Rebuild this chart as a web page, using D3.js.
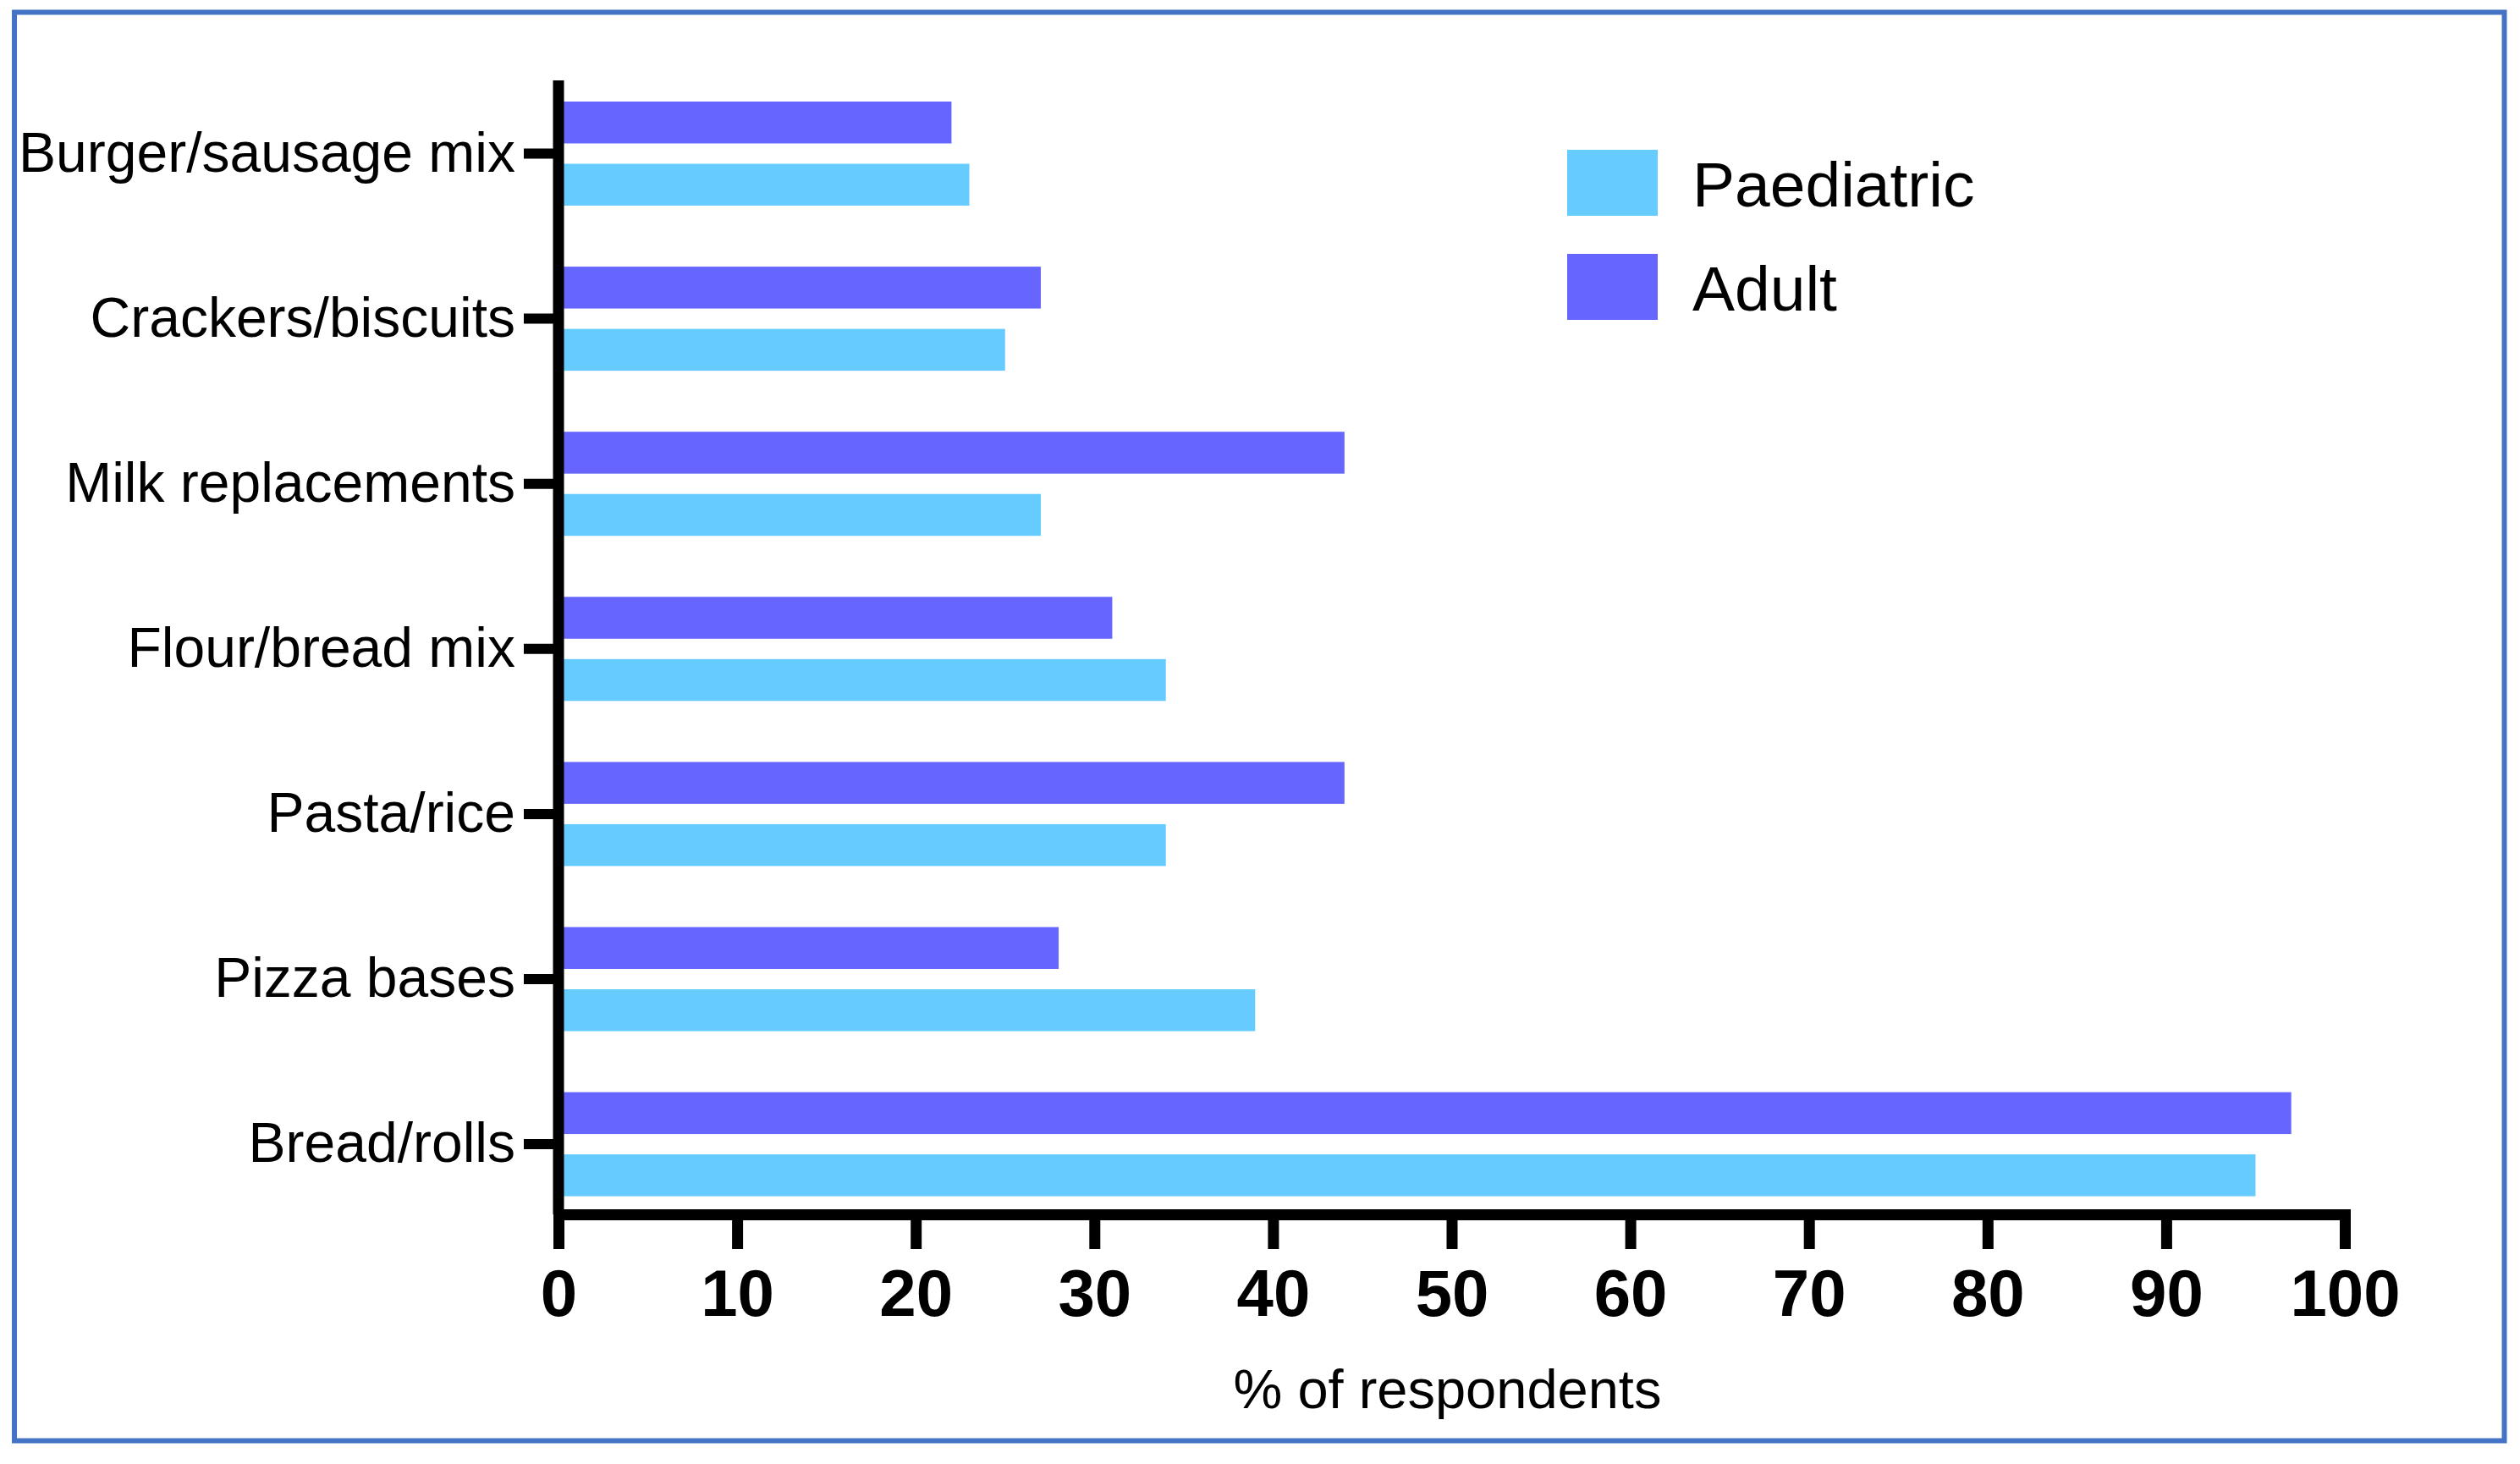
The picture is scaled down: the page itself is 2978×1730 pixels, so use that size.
<!DOCTYPE html>
<html>
<head>
<meta charset="utf-8">
<script src="https://cdn.jsdelivr.net/npm/d3@7"></script>
<style>
  html, body { margin: 0; padding: 0; background: #fff; }
  svg { display: block; }
  text { font-family: "Liberation Sans", Arial, Helvetica, sans-serif; }
</style>
</head>
<body>
<svg id="chart" width="2978" height="1730"></svg>
<script>
// ---- Data ----
const categories = ["Burger/sausage mix", "Crackers/biscuits", "Milk replacements", "Flour/bread mix", "Pasta/rice", "Pizza bases", "Bread/rolls"];
const seriesNames = ["Adult", "Paediatric"];
const adultValues = [22, 27, 44, 31, 44, 28, 97];
const paediatricValues = [23, 25, 27, 34, 34, 39, 95];
const xTickValues = [0, 10, 20, 30, 40, 50, 60, 70, 80, 90, 100];
const xAxisTitle = "% of respondents";
const legendOrder = ["Paediatric", "Adult"];

const colors = { "Paediatric": "#66CCFF", "Adult": "#6666FF" };

// ---- Layout ----
const W = 2978, H = 1730;
const svg = d3.select("#chart");
svg.append("rect").attr("width", W).attr("height", H).attr("fill", "#fff");

// outer border
svg.append("rect")
  .attr("x", 17).attr("y", 14.5)
  .attr("width", 2942.5).attr("height", 1688)
  .attr("fill", "none").attr("stroke", "#4472C4").attr("stroke-width", 6);

const axisTop = 95;      // top of the y axis line
const axisY = 1435;      // centre of the x axis line

const x = d3.scaleLinear().domain([0, 100]).range([660, 2771]);

const pad = 0.3696;
const y = d3.scaleBand().domain(categories).range([47.9, 1485.7]).paddingInner(pad).paddingOuter(pad);
const ySub = d3.scaleBand().domain(seriesNames).range([0, y.bandwidth()]).paddingInner(0.327).paddingOuter(0);

const rows = categories.map((c, i) => ({ cat: c, Adult: adultValues[i], Paediatric: paediatricValues[i] }));

// ---- Bars ----
const g = svg.append("g");
const groups = g.selectAll("g.cat").data(rows).join("g")
  .attr("class", "cat")
  .attr("transform", d => `translate(0,${y(d.cat)})`);

groups.selectAll("rect").data(d => seriesNames.map(s => ({ s, v: d[s] }))).join("rect")
  .attr("x", x(0))
  .attr("y", d => ySub(d.s))
  .attr("width", d => x(d.v) - x(0))
  .attr("height", ySub.bandwidth())
  .attr("fill", d => colors[d.s]);

// ---- Y axis ----
const yAxis = d3.axisLeft(y).tickSize(41).tickPadding(10).tickSizeOuter(0);
const yg = svg.append("g").attr("transform", `translate(${x(0)},0)`).call(yAxis);
yg.select(".domain").remove();
yg.selectAll(".tick line").attr("stroke", "#000").attr("stroke-width", 12);
yg.selectAll(".tick text")
  .attr("fill", "#000")
  .style("font-size", "66px")
  .style("font-family", '"Liberation Sans", Arial, sans-serif');

svg.append("line")
  .attr("x1", x(0)).attr("x2", x(0))
  .attr("y1", axisTop).attr("y2", axisY)
  .attr("stroke", "#000").attr("stroke-width", 13);

// ---- X axis ----
const xAxis = d3.axisBottom(x).tickValues(xTickValues).tickSize(41).tickPadding(24).tickSizeOuter(0);
const xg = svg.append("g").attr("transform", `translate(0,${axisY})`).call(xAxis);
xg.select(".domain").attr("stroke", "#000").attr("stroke-width", 13).attr("stroke-linecap", "square");
xg.selectAll(".tick line").attr("stroke", "#000").attr("stroke-width", 13);
xg.selectAll(".tick text")
  .attr("fill", "#000")
  .style("font-size", "78px")
  .style("font-weight", "bold")
  .style("font-family", '"Liberation Sans", Arial, sans-serif');

// x axis title
svg.append("text")
  .attr("x", (x(0) + x(100)) / 2 - 5)
  .attr("y", 1664)
  .attr("text-anchor", "middle")
  .style("font-size", "65px")
  .attr("fill", "#000")
  .text(xAxisTitle);

// ---- Legend ----
const legend = svg.append("g").attr("transform", "translate(1852,177)");
const li = legend.selectAll("g").data(legendOrder).join("g")
  .attr("transform", (d, i) => `translate(0,${i * 123})`);
li.append("rect").attr("width", 107).attr("height", 78).attr("fill", d => colors[d]);
li.append("text")
  .attr("x", 148).attr("y", 67)
  .style("font-size", "75px")
  .attr("fill", "#000")
  .text(d => d);
</script>
</body>
</html>
